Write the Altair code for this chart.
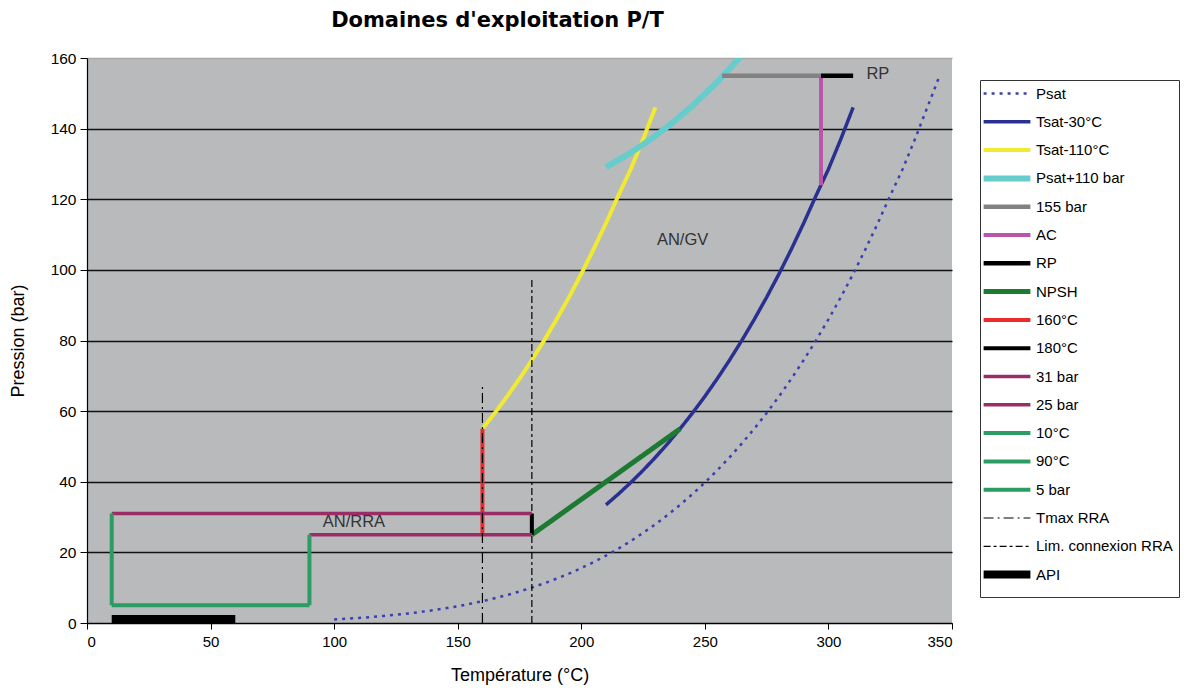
import altair as alt
import pandas as pd

# ---- data ----
names = ["Psat", "Tsat-30°C", "Tsat-110°C", "Psat+110 bar", "155 bar", "AC", "RP",
         "NPSH", "160°C", "180°C", "31 bar", "25 bar", "10°C", "90°C", "5 bar",
         "Tmax RRA", "Lim. connexion RRA", "API"]
colors = ["#3a3fb2", "#2a3090", "#f0ea32", "#66cccc", "#828282", "#b956a9", "#000000",
          "#1c7a32", "#ec2a2a", "#000000", "#9a2d66", "#9a2d66", "#2a9c64", "#2a9c64",
          "#2a9c64", "#000000", "#000000", "#000000"]
dashes = [[3, 5], [1, 0], [1, 0], [1, 0], [1, 0], [1, 0], [1, 0], [1, 0], [1, 0], [1, 0],
          [1, 0], [1, 0], [1, 0], [1, 0], [1, 0], [10, 4, 2, 4], [7, 3, 3, 3], [1, 0]]
widths = [2.5, 3.5, 4, 6, 4.5, 4, 4.5, 5, 4, 4, 3.5, 3.5, 4, 4, 4, 1.2, 1.2, 8]

psat_T = [100, 105, 110, 115, 120, 125, 130, 135, 140, 145, 150, 155, 160, 165, 170,
          175, 180, 185, 190, 195, 200, 205, 210, 215, 220, 225, 230, 235, 240, 245,
          250, 255, 260, 265, 270, 275, 280, 285, 290, 295, 300, 305, 310, 315, 320,
          325, 330, 335, 340, 345]
psat_P = [1.01, 1.21, 1.43, 1.69, 1.99, 2.32, 2.70, 3.13, 3.61, 4.16, 4.76, 5.43, 6.18,
          7.01, 7.92, 8.93, 10.03, 11.23, 12.55, 13.99, 15.55, 17.24, 19.08, 21.06, 23.20,
          25.50, 27.97, 30.63, 33.47, 36.51, 39.76, 43.22, 46.92, 50.85, 55.03, 59.46,
          64.17, 69.17, 74.46, 80.06, 85.98, 92.25, 98.86, 105.86, 113.24, 121.05,
          128.5, 137.0, 146.0, 155.0]

tsat30_T = [210, 215, 220, 225, 230, 235, 240, 245, 250, 255, 260, 265, 270, 275, 280,
            285, 290, 295, 300, 305, 310]
tsat30_P = [33.47, 36.51, 39.76, 43.22, 46.92, 50.85, 55.03, 59.46, 64.17, 69.17, 74.46,
            80.06, 85.98, 92.25, 98.86, 105.86, 113.24, 121.05, 128.5, 137.0, 146.0]

tsat110_T = [160, 165, 170, 175, 180, 185, 190, 195, 200, 205, 210, 215, 220, 225, 230]
tsat110_P = [55.03, 59.46, 64.17, 69.17, 74.46, 80.06, 85.98, 92.25, 98.86, 105.86,
             113.24, 121.05, 128.5, 137.0, 146.0]

psat110_T = [210, 215, 220, 225, 230, 235, 240, 245, 250, 255, 260, 265]
psat110_P = [129.1, 131.1, 133.2, 135.5, 138.0, 140.6, 143.5, 146.5, 149.8, 153.2,
             156.9, 160.9]

b155_T, b155_P = [257, 297], [155, 155]
ac_T, ac_P = [297, 297], [124, 155]
rp_T, rp_P = [297, 310], [155, 155]
npsh_T, npsh_P = [180, 240], [25, 55]
t160_T, t160_P = [160, 160], [25, 55]
t180_T, t180_P = [180, 180], [25, 31]
b31_T, b31_P = [10, 180], [31, 31]
b25_T, b25_P = [90, 180], [25, 25]
t10_T, t10_P = [10, 10], [5, 31]
t90_T, t90_P = [90, 90], [5, 25]
b5_T, b5_P = [10, 90], [5, 5]
tmax_T, tmax_P = [160, 160], [0, 68]
lim_T, lim_P = [180, 180], [0, 98]
api_T, api_P = [10, 60], [1.1, 1.1]

series_T = [psat_T, tsat30_T, tsat110_T, psat110_T, b155_T, ac_T, rp_T, npsh_T, t160_T,
            t180_T, b31_T, b25_T, t10_T, t90_T, b5_T, tmax_T, lim_T, api_T]
series_P = [psat_P, tsat30_P, tsat110_P, psat110_P, b155_P, ac_P, rp_P, npsh_P, t160_P,
            t180_P, b31_P, b25_P, t10_P, t90_P, b5_P, tmax_P, lim_P, api_P]

label_text = ["AN/RRA", "AN/GV", "RP"]
label_T = [108, 241, 320]
label_P = [28.5, 108.5, 155.5]

x_ticks = [0, 50, 100, 150, 200, 250, 300, 350]
y_ticks = [0, 20, 40, 60, 80, 100, 120, 140, 160]

# ---- build tables ----
rows = []
for name, ts, ps in zip(names, series_T, series_P):
    for i, (t, p) in enumerate(zip(ts, ps)):
        rows.append({"series": name, "T": t, "P": p, "i": i})
df = pd.DataFrame(rows)
df_text = pd.DataFrame({"label": label_text, "T": label_T, "P": label_P})

FONT = "Liberation Sans"

legend = alt.Legend(
    title=None, orient="none", legendX=893, legendY=22,
    symbolType="M-3.3,0H12.3", symbolSize=36,
    labelFont=FONT, labelFontSize=15, labelColor="black", labelLimit=300,
    labelOffset=35, rowPadding=-4.7, gridAlign="all",
    strokeColor="#333333", fillColor="white", padding=6,
)

x_enc = alt.X("T:Q", title="Température (°C)",
              scale=alt.Scale(domain=[0, 350], nice=False, zero=False),
              axis=alt.Axis(values=x_ticks, grid=False, labelFont=FONT, labelFontSize=15,
                            labelColor="black", tickColor="black", tickSize=6,
                            domainColor="black", domainWidth=1.2, labelPadding=5,
                            titleFont=FONT, titleFontSize=18, titleFontWeight="normal",
                            titleColor="black", titlePadding=17))
y_enc = alt.Y("P:Q", title="Pression (bar)",
              scale=alt.Scale(domain=[0, 160], nice=False),
              axis=alt.Axis(values=y_ticks, grid=True,
                            gridColor={"condition": {"test": "datum.value == 160", "value": "#a8a8a8"},
                                       "value": "#111111"},
                            gridWidth=1.3, labelFont=FONT, labelFontSize=15.5,
                            labelColor="black", tickColor="black", tickSize=7,
                            domainColor="black", domainWidth=1.2, labelPadding=4,
                            titleFont=FONT, titleFontSize=18, titleFontWeight="normal",
                            titleColor="black", titlePadding=23))

lines = alt.Chart(df).mark_line(clip=True).encode(
    x=x_enc,
    y=y_enc,
    color=alt.Color("series:N", scale=alt.Scale(domain=names, range=colors), legend=legend),
    strokeDash=alt.StrokeDash("series:N", scale=alt.Scale(domain=names, range=dashes), legend=legend),
    strokeWidth=alt.StrokeWidth("series:N", scale=alt.Scale(type="ordinal", domain=names, range=widths), legend=legend),
    order=alt.Order("i:Q"),
)

texts = alt.Chart(df_text).mark_text(font=FONT, fontSize=16.5, color="#333333",
                                     align="center", baseline="middle").encode(
    x="T:Q", y="P:Q", text="label:N")

chart = alt.layer(lines, texts).properties(
    width=865, height=565,
    title=alt.Title("Domaines d'exploitation P/T", font="DejaVu Sans", fontSize=21,
                    fontWeight="bold", color="black", anchor="middle", dx=-22, offset=20),
    autosize=alt.AutoSizeParams(type="none"),
    padding={"left": 79, "top": 50, "right": 233, "bottom": 62},
).configure_view(fill="#b9babc", stroke=None)

chart.save("out.html", embed_options={"renderer": "svg", "actions": False})
